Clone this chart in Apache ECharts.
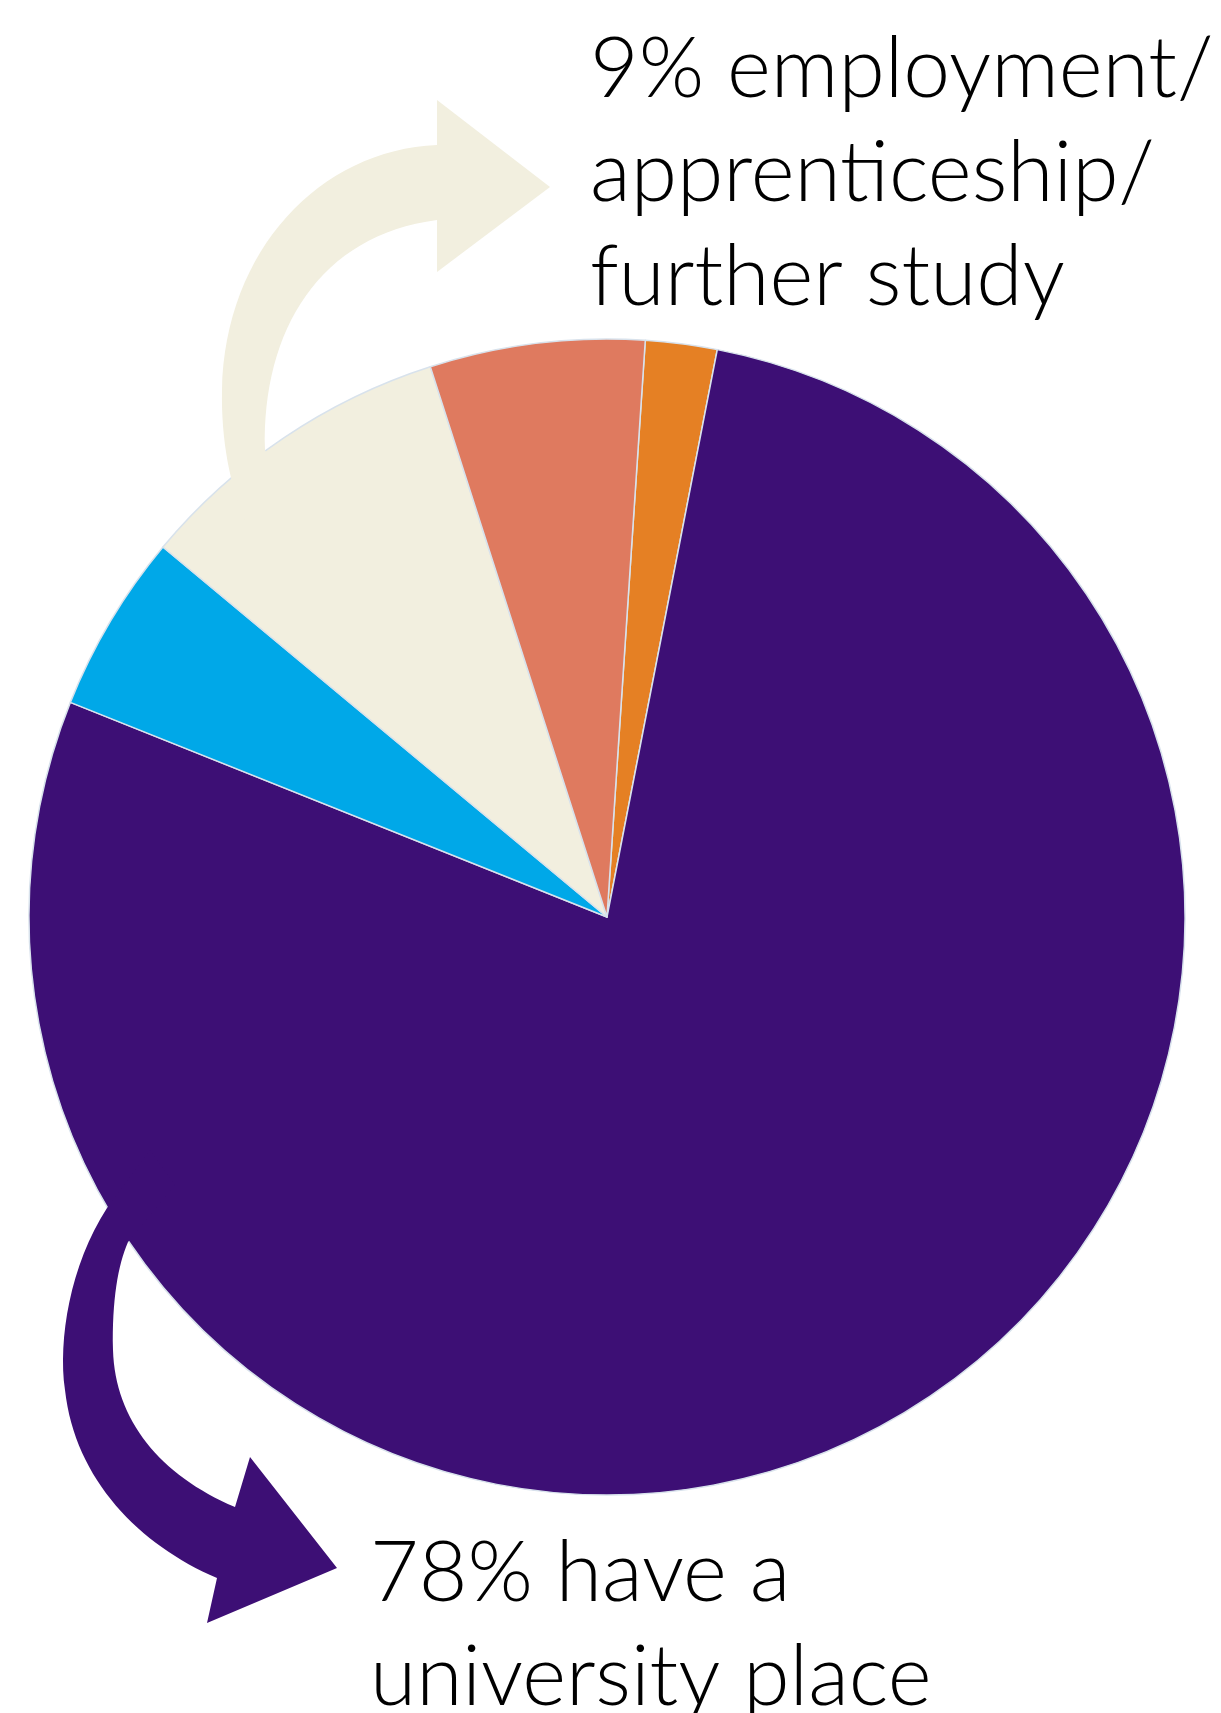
<!DOCTYPE html>
<html>
<head>
<meta charset="utf-8">
<script src="https://cdn.jsdelivr.net/npm/echarts@6/dist/echarts.min.js"></script>
<style>
  html, body { margin: 0; padding: 0; background: #fff; }
  #container { width: 1221px; height: 1713px; }
</style>
</head>
<body>
<div id="container"></div>
<script>
// slices, clockwise from just right of 12 o'clock
const categories = ['Other 1', 'University place', 'Other 2', 'Employment/apprenticeship/further study', 'Other 3'];
const values = [2, 78, 5, 9, 6];
const colors = ['#e58024', '#3d0f75', '#00a8e8', '#f2efdf', '#df7a5f'];

const topLabel = '9% employment/\napprenticeship/\nfurther study';
const bottomLabel = '78% have a\nuniversity place';

// decorative curved arrows
echarts.graphic.registerShape('creamArrow', echarts.graphic.extendPath(
    'M 437 145 C 320 150, 225 250, 222 390 C 221 440, 230 485, 245 520 ' +
    'L 300 520 L 265 450 C 262 330, 320 235, 437 220 L 437 272 L 550 187 L 437 100 Z'
));
echarts.graphic.registerShape('purpleArrow', echarts.graphic.extendPath(
    'M 150 1150 L 107 1208 C 70 1265, 58 1340, 65 1390 C 75 1480, 140 1545, 217 1578 ' +
    'L 207 1623 L 337 1568 L 250 1457 L 235 1507 C 160 1475, 115 1420, 113 1350 ' +
    'C 112 1300, 118 1265, 128 1242 L 175 1185 Z'
));

let dom = document.getElementById('container');
let myChart = echarts.init(dom, null, { renderer: 'canvas' });

let textStyle = {
    fontFamily: 'Lato',
    fontWeight: 300,
    fontSize: 84,
    lineHeight: 104,
    fill: '#000'
};

let option = {
    animation: false,
    backgroundColor: '#fff',
    graphic: [
        { type: 'creamArrow', z: 3, style: { fill: '#f2efdf' } },
        { type: 'purpleArrow', z: 3, style: { fill: '#3d0f75' } },
        {
            type: 'text',
            z: 10,
            x: 590,
            y: 18,
            style: Object.assign({ text: topLabel }, textStyle)
        },
        {
            type: 'text',
            z: 10,
            x: 370,
            y: 1522,
            style: Object.assign({ text: bottomLabel }, textStyle)
        }
    ],
    series: [
        {
            type: 'pie',
            center: [607, 917],
            radius: 578,
            startAngle: 86.2,
            clockwise: true,
            label: { show: false },
            labelLine: { show: false },
            emphasis: { disabled: true },
            itemStyle: {
                borderColor: '#d8e2ec',
                borderWidth: 1.5
            },
            data: categories.map((name, i) => ({
                name,
                value: values[i],
                itemStyle: { color: colors[i] }
            }))
        }
    ]
};
myChart.setOption(option);
</script>
</body>
</html>
